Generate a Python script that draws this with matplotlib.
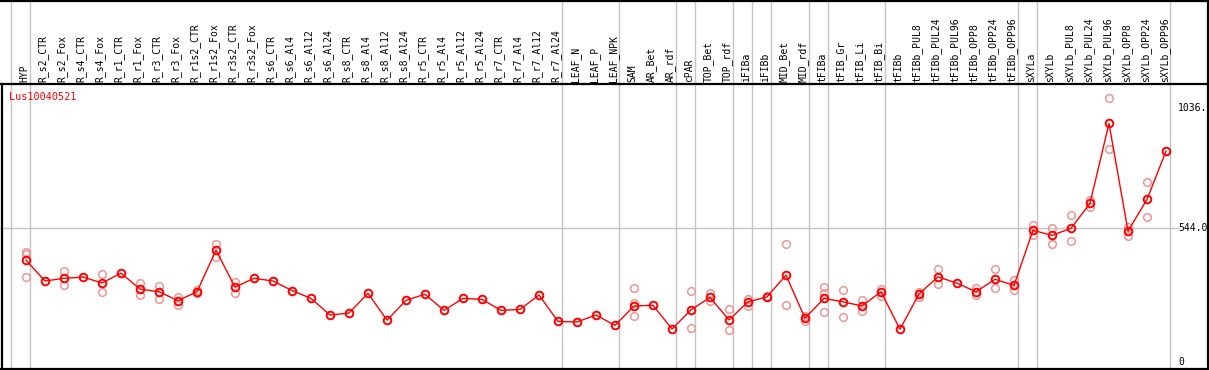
import matplotlib
matplotlib.use("Agg")
import matplotlib.pyplot as plt
from matplotlib.transforms import blended_transform_factory

# sample names, one column each
samples = [
    "HYP", "R_s2_CTR", "R_s2_Fox", "R_s4_CTR", "R_s4_Fox", "R_r1_CTR", "R_r1_Fox",
    "R_r3_CTR", "R_r3_Fox", "R_r1s2_CTR", "R_r1s2_Fox", "R_r3s2_CTR", "R_r3s2_Fox",
    "R_s6_CTR", "R_s6_Al4", "R_s6_Al12", "R_s6_Al24", "R_s8_CTR", "R_s8_Al4",
    "R_s8_Al12", "R_s8_Al24", "R_r5_CTR", "R_r5_Al4", "R_r5_Al12", "R_r5_Al24",
    "R_r7_CTR", "R_r7_Al4", "R_r7_Al12", "R_r7_Al24", "LEAF_N", "LEAF_P", "LEAF_NPK",
    "SAM", "AR_Bet", "AR_rdf", "cPAR", "TOP_Bet", "TOP_rdf", "iFIBa", "iFIBb",
    "MID_Bet", "MID_rdf", "tFIBa", "tFIB_Gr", "tFIB_Li", "tFIB_Bi", "tFIBb",
    "tFIBb_PUL8", "tFIBb_PUL24", "tFIBb_PUL96", "tFIBb_OPP8", "tFIBb_OPP24",
    "tFIBb_OPP96", "sXYLa", "sXYLb", "sXYLb_PUL8", "sXYLb_PUL24", "sXYLb_PUL96",
    "sXYLb_OPP8", "sXYLb_OPP24", "sXYLb_OPP96",
]

# mean expression per sample
means = [
    414, 329, 340, 345, 321, 361, 296, 285, 249, 285, 455, 304, 340,
    329, 290, 258, 190, 198, 279, 169, 250, 275, 209, 258, 254,
    209, 213, 272, 164, 162, 190, 148,
    227, 230, 133, 211, 262, 170, 244, 264,
    353, 177, 258, 244, 227, 285, 132,
    276, 346, 320, 285, 336, 311,
    536, 515, 544, 646, 972, 533, 662, 859,
]

# replicate values (only the ones visible apart from the mean)
replicates = [
    [446, 438, 344], [], [370, 311], [], [357, 284], [], [319, 273],
    [308, 257], [262, 231], [293, 279], [480, 428], [326, 281], [],
    [], [], [], [], [], [], [], [], [], [], [], [],
    [], [], [], [], [], [], [],
    [299, 238, 186], [], [], [288, 137], [279, 246], [215, 129], [255, 227], [268],
    [479, 230], [186, 167], [303, 279, 201], [293, 181], [251, 208], [297, 268], [],
    [285, 262], [377, 318], [], [302, 272], [377, 299], [333, 291],
    [557, 517], [546, 479], [597, 491], [661, 632], [1074, 866], [550, 514], [732, 589], [],
]

# last sample index of each group (separators drawn after them)
group_ends = [-1, 0, 28, 31, 34, 35, 37, 38, 39, 41, 42, 45, 52, 53, 60]

gene = "Lus10040521"
tick_values = [0, 544, 1036]
tick_labels = ["0", "544.0", "1036."]

W, H = 1209, 370
fig = plt.figure(figsize=(W / 100, H / 100), dpi=100)
ax = fig.add_axes([0, 0, 1, 1])
ax.axis("off")

# pixel mapping: sample i at x = 26 + 19*i, value v at y = 361.6 - 0.245*v
ax.set_xlim(-26 / 19, (W - 26) / 19)
ax.set_ylim((361.6 - H) / 0.245, 361.6 / 0.245)

xt = blended_transform_factory(ax.transData, ax.transAxes)
yt = blended_transform_factory(ax.transAxes, ax.transData)


def fy(py):
    return 1 - py / H


# group separators
for g in group_ends:
    ax.plot([g + 0.23, g + 0.23], [0, 1], color="#c4c4c4", lw=1.0, transform=xt, zorder=1)

# mid reference line
ax.plot([0, 1178 / W], [544, 544], color="#c4c4c4", lw=1.0, transform=yt, zorder=1)

# frame
k = dict(color="black", lw=1.6, transform=ax.transAxes, clip_on=False, zorder=5)
ax.plot([0, 1], [fy(0.5), fy(0.5)], **k)
ax.plot([0, 1], [fy(84), fy(84)], **k)
ax.plot([0, 1], [fy(369), fy(369)], **k)
ax.plot([1.5 / W, 1.5 / W], [fy(84), fy(369)], **k)
ax.plot([1208 / W, 1208 / W], [0, 1], **k)

# sample labels
for i, name in enumerate(samples):
    ax.text(i - 0.1, fy(82), name, rotation=90, ha="center", va="bottom",
            family="DejaVu Sans Mono", fontsize=7, color="black", transform=xt)

# right axis labels
for v, lab in zip(tick_values, tick_labels):
    ax.text(1178 / W, v, lab, ha="left", va="center", family="DejaVu Sans Mono",
            fontsize=7, color="black", transform=yt)

ax.text(9 / W, fy(97), gene, ha="left", va="center", family="DejaVu Sans Mono",
        fontsize=7.3, color="red", transform=ax.transAxes, zorder=6)

# replicates
for i, reps in enumerate(replicates):
    if reps:
        ax.plot([i] * len(reps), reps, linestyle="none", marker="o", ms=5.5,
                mfc="none", mec="#ec9696", mew=1.1, zorder=2)

# mean line
xs = list(range(len(samples)))
ax.plot(xs, means, color="red", lw=1.0, marker="o", ms=5.5, mfc="none",
        mec="red", mew=1.4, zorder=3)

fig.savefig("out.png", dpi=100)
